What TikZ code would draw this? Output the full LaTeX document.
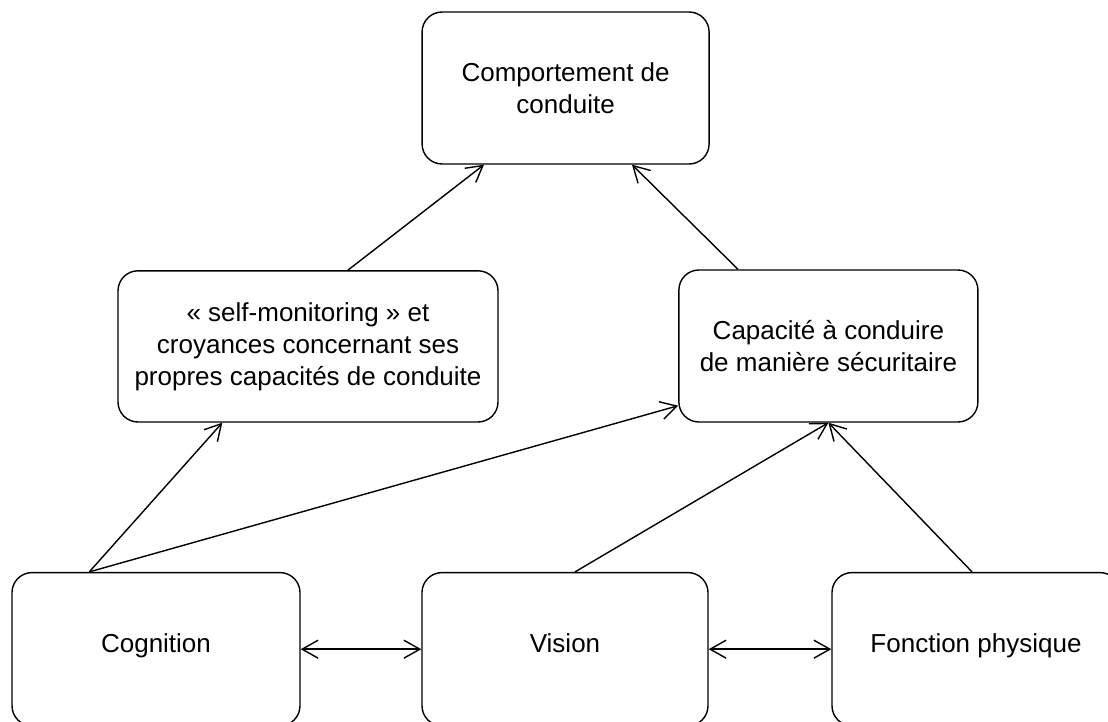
\documentclass[tikz,border=0pt]{standalone}
\usepackage{fontspec}
\setmainfont{Liberation Sans}
\usetikzlibrary{arrows.meta}

\begin{document}
\begin{tikzpicture}[
    box/.style={draw, line width=1pt, rounded corners=0.5cm, align=center,
      inner sep=0pt, font=\fontsize{18.5}{22.8}\selectfont},
    onebox/.style={box, minimum height=3.83cm, text height=0.72em, text depth=0.22em},
    link/.style={line width=1pt, -{Straight Barb[length=4mm,width=4.5mm]}},
    bilink/.style={line width=1pt, {Straight Barb[length=4mm,width=4.5mm]}-{Straight Barb[length=4mm,width=4.5mm]}}
  ]
  \useasboundingbox (0,0) rectangle (27.7,-18.05);
  % top
  \node[box, minimum width=7.175cm, minimum height=3.8cm] (comp) at (14.14,-2.2) {Comportement de\\conduite};
  % middle row
  \node[box, minimum width=9.5cm, minimum height=3.78cm] (selfmon) at (7.7,-8.66) {« self-monitoring » et\\croyances concernant ses\\propres capacités de conduite};
  \node[box, minimum width=7.475cm, minimum height=3.8cm] (capacite) at (20.71,-8.65) {Capacité à conduire\\de manière sécuritaire};
  % bottom row
  \node[onebox, minimum width=7.2cm] (cognition) at (3.9,-16.23) {Cognition};
  \node[onebox, minimum width=7.15cm] (vision) at (14.125,-16.23) {Vision};
  \node[onebox, minimum width=7.2cm] (fonction) at (24.4,-16.23) {Fonction physique};

  \draw[link] ([xshift=1.95cm]cognition.north west) -- ([xshift=2.625cm]selfmon.south west);
  \draw[link] ([xshift=1.95cm]cognition.north west) -- ([yshift=0.425cm]capacite.south west);
  \draw[link] ([xshift=0.25cm]vision.north) -- (capacite.south);
  \draw[link] ([xshift=-0.1cm]fonction.north) -- (capacite.south);
  \draw[link] ([xshift=1cm]selfmon.north) -- ([xshift=-2.04cm]comp.south);
  \draw[link] ([xshift=-2.26cm]capacite.north) -- ([xshift=1.66cm]comp.south);
  \draw[bilink] (cognition.east) -- (vision.west);
  \draw[bilink] (vision.east) -- (fonction.west);
\end{tikzpicture}
\end{document}
